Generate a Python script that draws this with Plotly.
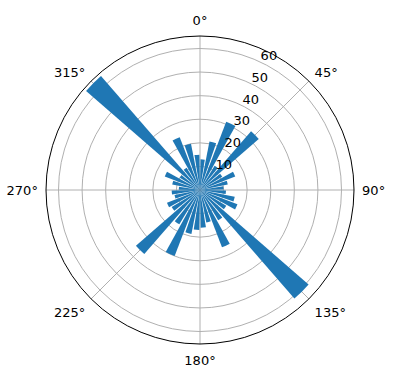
import plotly.graph_objects as go

# bin centres (degrees, clockwise from north) and bar heights
angles = [5, 15, 25, 35, 45, 55, 65, 75, 85, 95, 105, 115, 125, 135, 145, 155, 165, 175,
          185, 195, 205, 215, 225, 235, 245, 255, 265, 275, 285, 295, 305, 315, 325, 335, 345, 355]
counts = [13, 21, 31, 12, 33, 11, 16, 12, 10, 11, 15, 17, 13, 61, 15, 26, 14, 16,
          17, 19, 30, 17, 36, 14, 15, 11, 12, 9, 12, 16, 10, 64, 11, 24, 20, 15]
bar_width = 8

angle_ticks = [0, 45, 90, 135, 180, 225, 270, 315]
angle_labels = [f"{a}°" for a in angle_ticks]
radial_ticks = [10, 20, 30, 40, 50, 60]
radial_labels = [f"{v}<br> " for v in radial_ticks]

fig = go.Figure()
fig.add_trace(go.Barpolar(
    r=counts, theta=angles, width=[bar_width] * len(angles),
    marker=dict(color="#1f77b4", line=dict(width=0)),
))

fig.update_layout(
    width=396, height=380,
    margin=dict(l=46, r=42, t=36, b=36),
    paper_bgcolor="white",
    showlegend=False,
    font=dict(family="DejaVu Sans", size=13, color="black"),
    polar=dict(
        bgcolor="white",
        bargap=0,
        angularaxis=dict(
            direction="clockwise", rotation=90,
            tickmode="array", tickvals=angle_ticks, ticktext=angle_labels,
            showgrid=True, gridcolor="#b0b0b0", gridwidth=0.8,
            showline=True, linecolor="black", linewidth=1,
            ticks="outside", ticklen=5, tickcolor="rgba(0,0,0,0)",
            tickfont=dict(size=13, color="black"),
        ),
        radialaxis=dict(
            range=[0, 65.3], angle=67.5,
            tickmode="array", tickvals=radial_ticks, ticktext=radial_labels,
            showgrid=True, gridcolor="#b0b0b0", gridwidth=0.8,
            showline=False, ticks="", side="clockwise",
            tickfont=dict(size=13, color="black"),
            tickangle=67.5,
        ),
    ),
)

fig.write_html("out.html")
